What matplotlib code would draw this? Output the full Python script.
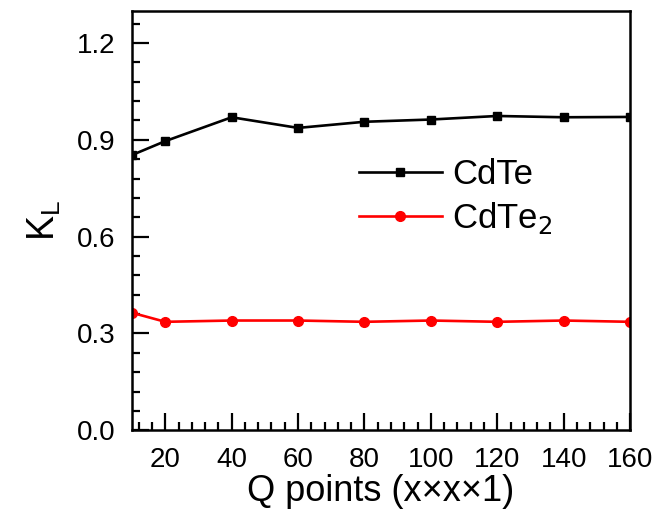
import matplotlib
matplotlib.use("Agg")
import matplotlib.pyplot as plt
from matplotlib.ticker import MultipleLocator

q_points = [10, 20, 40, 60, 80, 100, 120, 140, 160]
kl_cdte = [0.853, 0.896, 0.970, 0.937, 0.956, 0.963, 0.974, 0.970, 0.971]
kl_cdte2 = [0.364, 0.336, 0.340, 0.340, 0.336, 0.340, 0.336, 0.340, 0.336]

plt.rcParams['font.family'] = ['Liberation Sans', 'DejaVu Sans']

fig = plt.figure(figsize=(6.57, 5.14), dpi=100)
ax = fig.add_axes([0.201, 0.163, 0.758, 0.816])

ax.plot(q_points, kl_cdte, color='black', marker='s', markersize=6, linewidth=1.9, label='CdTe')
ax.plot(q_points, kl_cdte2, color='red', marker='o', markersize=7, linewidth=1.9, label='CdTe$_2$')

ax.set_xlim(10, 160)
ax.set_ylim(0, 1.3)
ax.xaxis.set_major_locator(MultipleLocator(20))
ax.xaxis.set_minor_locator(MultipleLocator(4))
ax.yaxis.set_major_locator(MultipleLocator(0.3))
ax.yaxis.set_minor_locator(MultipleLocator(0.06))

ax.tick_params(which='both', direction='in', top=False, right=False, width=1.6, labelsize=20, colors='black')
ax.tick_params(which='major', length=12)
ax.tick_params(which='minor', length=6)
ax.tick_params(axis='x', which='major', pad=12)
ax.tick_params(axis='y', which='major', pad=12)
ax.set_yticks([0.0, 0.3, 0.6, 0.9, 1.2])
ax.set_yticklabels(['0.0', '0.3', '0.6', '0.9', '1.2'])
ax.set_xticks([20, 40, 60, 80, 100, 120, 140, 160])
for sp in ax.spines.values():
    sp.set_linewidth(1.8)

ax.set_xlabel('Q points (x\u00d7x\u00d71)', fontsize=26, labelpad=1)
ax.set_ylabel('K$_\\mathregular{L}$', fontsize=27, labelpad=10)

ax.legend(loc='upper left', bbox_to_anchor=(0.42, 0.69), frameon=False, fontsize=25,
          handlelength=2.4, handletextpad=0.3, labelspacing=0.25, borderpad=0)

fig.savefig("out.png", dpi=100)
